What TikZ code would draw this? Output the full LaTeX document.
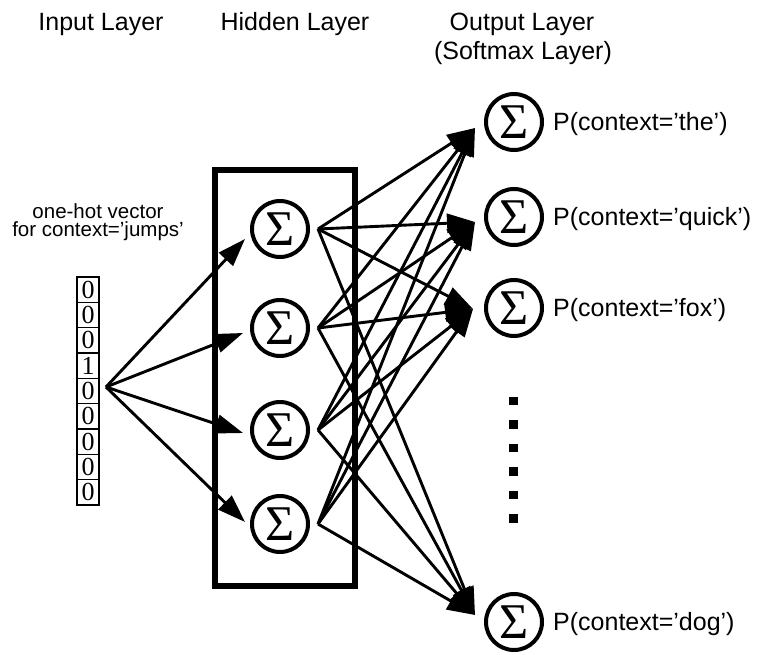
\documentclass[tikz,border=0pt]{standalone}
\usepackage{fontspec}
\setmainfont{Liberation Sans}
\newfontfamily\timesfont{Liberation Serif}
\usetikzlibrary{arrows.meta}
\begin{document}
\begin{tikzpicture}[x=1pt,y=-1pt,
  neuron/.style={circle, draw, line width=4pt, minimum size=56pt, inner sep=0pt,
                 font=\timesfont\fontsize{50}{50}\selectfont},
  cell/.style={draw, line width=1.3pt, minimum width=22pt, minimum height=25.33pt,
               inner sep=0pt, outer sep=0pt, font=\timesfont\fontsize{26}{26}\selectfont},
  heading/.style={font=\fontsize{25}{29}\selectfont, anchor=base, inner sep=0pt},
  prob/.style={font=\fontsize{25}{29}\selectfont, anchor=west, inner sep=0pt},
  conn/.style={line width=2.9pt, -{Triangle[length=28pt,width=19pt]}},
  dotmark/.style={fill, minimum size=8.5pt, inner sep=0pt}
]
\useasboundingbox (0,0) rectangle (757,655);

% layer headings
\node[heading] (tin) at (101,31) {Input Layer};
\node[heading] (thid) at (295,31) {Hidden Layer};
\node[heading] (tout) at (522,31) {Output Layer};
\node[heading] (tsoft) at (523,60) {(Softmax Layer)};

% one-hot input vector
\node[align=center, inner sep=0pt, font=\fontsize{20.5}{18.5}\selectfont] (vlabel) at (98,222)
  {one-hot vector\\for context=’jumps’};
\foreach \i/\d in {1/0,2/0,3/0,4/1,5/0,6/0,7/0,8/0,9/0}
  \node[cell] (c\i) at (88,{277+(\i-0.5)*25.33}) {\d};
\coordinate (fan) at (106,387);

% hidden layer frame and units
\node[draw, line width=6pt, minimum width=140pt, minimum height=416pt, inner sep=0pt, outer sep=0pt]
  (hbox) at (284.5,378) {};
\foreach \h/\y in {1/229,2/328,3/430,4/524} {
  \node[neuron] (h\h) at (280,\y) {Σ};
  \coordinate (hout\h) at (318,\y);
}
\coordinate (hin1) at (245,239);
\coordinate (hin2) at (243,333);
\coordinate (hin3) at (243,433);
\coordinate (hin4) at (245,522);

% output (softmax) units
\foreach \o/\y/\w in {1/122/the,2/217/quick,3/308/fox,4/622/dog} {
  \node[neuron] (o\o) at (514,\y) {Σ};
  \node[prob] (p\o) at (553,{\y+2}) {P(context=’\w’)};
}
\coordinate (oin1) at (475,128);
\coordinate (oin2) at (475,222);
\coordinate (oin3) at (473,309);
\coordinate (oin4) at (475,615);

% vertical ellipsis between the outputs
\foreach \k/\y in {1/401,2/424.5,3/448,4/471.5,5/495,6/518.5}
  \node[dotmark] (dot\k) at (513.5,\y) {};

% input -> hidden
\foreach \h in {1,...,4}
  \draw[conn] (fan) -- (hin\h);

% hidden -> output (fully connected)
\foreach \h in {1,...,4}
  \foreach \o in {1,...,4}
    \draw[conn] (hout\h) -- (oin\o);
\end{tikzpicture}
\end{document}
